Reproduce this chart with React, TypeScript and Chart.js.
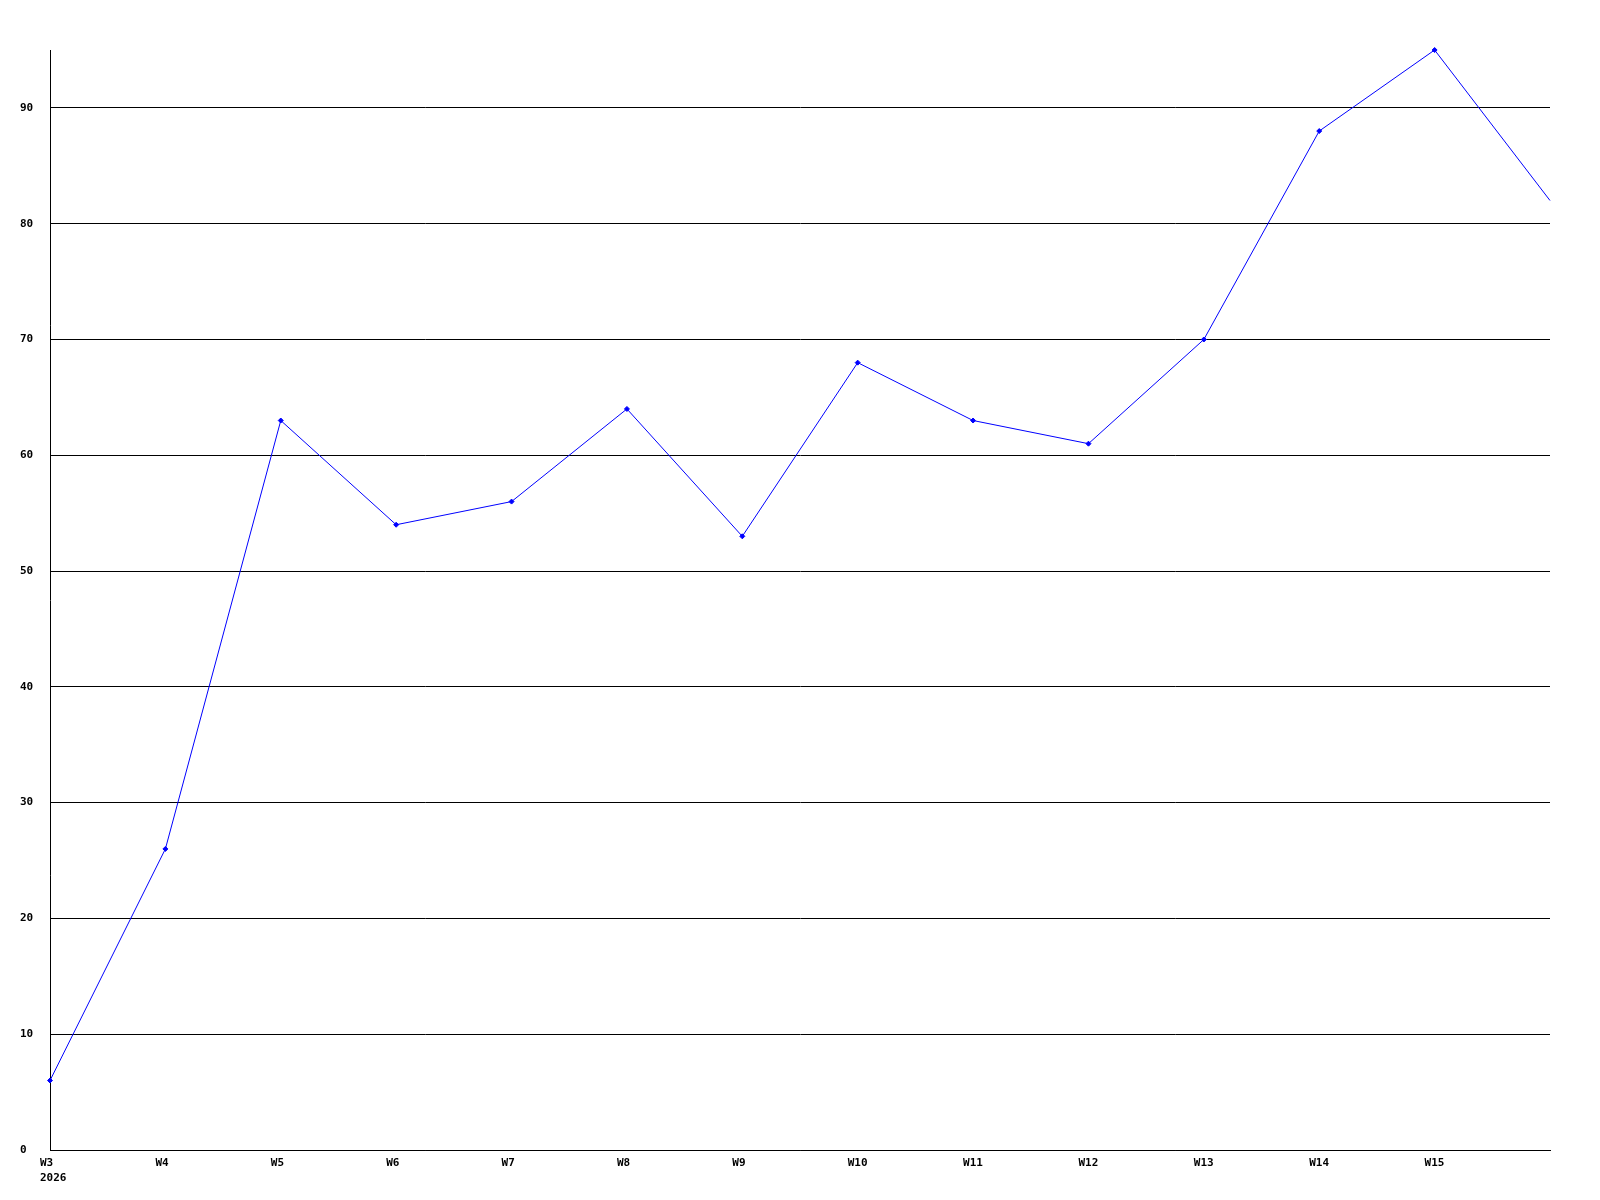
import React, { useEffect, useRef } from "react";
import { Chart, registerables } from "chart.js";

Chart.register(...registerables);

const categories: (string | string[])[] = [
  ["W3", "2026"], "W4", "W5", "W6", "W7", "W8", "W9", "W10", "W11", "W12", "W13", "W14", "W15", "",
];
const values: number[] = [6, 26, 63, 54, 56, 64, 53, 68, 63, 61, 70, 88, 95, 82];
const yMin = 0;
const yMax = 95;
const yStep = 10;

export default function App() {
  const ref = useRef<HTMLCanvasElement | null>(null);

  useEffect(() => {
    if (!ref.current) return;
    const font = { family: "'DejaVu Sans Mono', monospace", size: 11, weight: "bold" as const, lineHeight: 1.4 };
    const last = values.length - 1;
    const chart = new Chart(ref.current, {
      type: "line",
      data: {
        labels: categories,
        datasets: [
          {
            data: values,
            borderColor: "#0000ff",
            backgroundColor: "#0000ff",
            borderWidth: 1,
            pointStyle: "rectRot",
            pointRadius: (ctx: any) => (ctx.dataIndex === last ? 0 : 2.5),
            pointBorderWidth: 1,
            tension: 0,
            fill: false,
            clip: false,
          },
        ],
      },
      options: {
        responsive: false,
        animation: false,
        layout: { padding: { left: 20, top: 50, right: 50, bottom: 0 } },
        plugins: {
          legend: { display: false },
          tooltip: { enabled: false },
          title: { display: false },
        },
        scales: {
          x: {
            type: "category",
            offset: false,
            grid: { display: false, drawTicks: false },
            border: { display: true, color: "#000000", width: 1 },
            ticks: {
              color: "#000000",
              font,
              align: "start",
              labelOffset: -10,
              padding: 5,
              autoSkip: false,
              maxRotation: 0,
              minRotation: 0,
            },
            afterFit: (scale: any) => {
              scale.height = 50;
            },
          },
          y: {
            type: "linear",
            min: yMin,
            max: yMax,
            grid: { display: true, color: "#000000", lineWidth: 1, drawTicks: false },
            border: { display: true, color: "#000000", width: 1 },
            ticks: {
              stepSize: yStep,
              includeBounds: false,
              color: "#000000",
              font,
              crossAlign: "far",
              padding: 0,
            },
            afterFit: (scale: any) => {
              scale.width = 30;
            },
          },
        },
      },
    });
    return () => chart.destroy();
  }, []);

  return (
    <div style={{ position: "absolute", left: 0, top: 0, width: 1600, height: 1200, background: "#ffffff" }}>
      <canvas ref={ref} width={1600} height={1200} />
    </div>
  );
}
